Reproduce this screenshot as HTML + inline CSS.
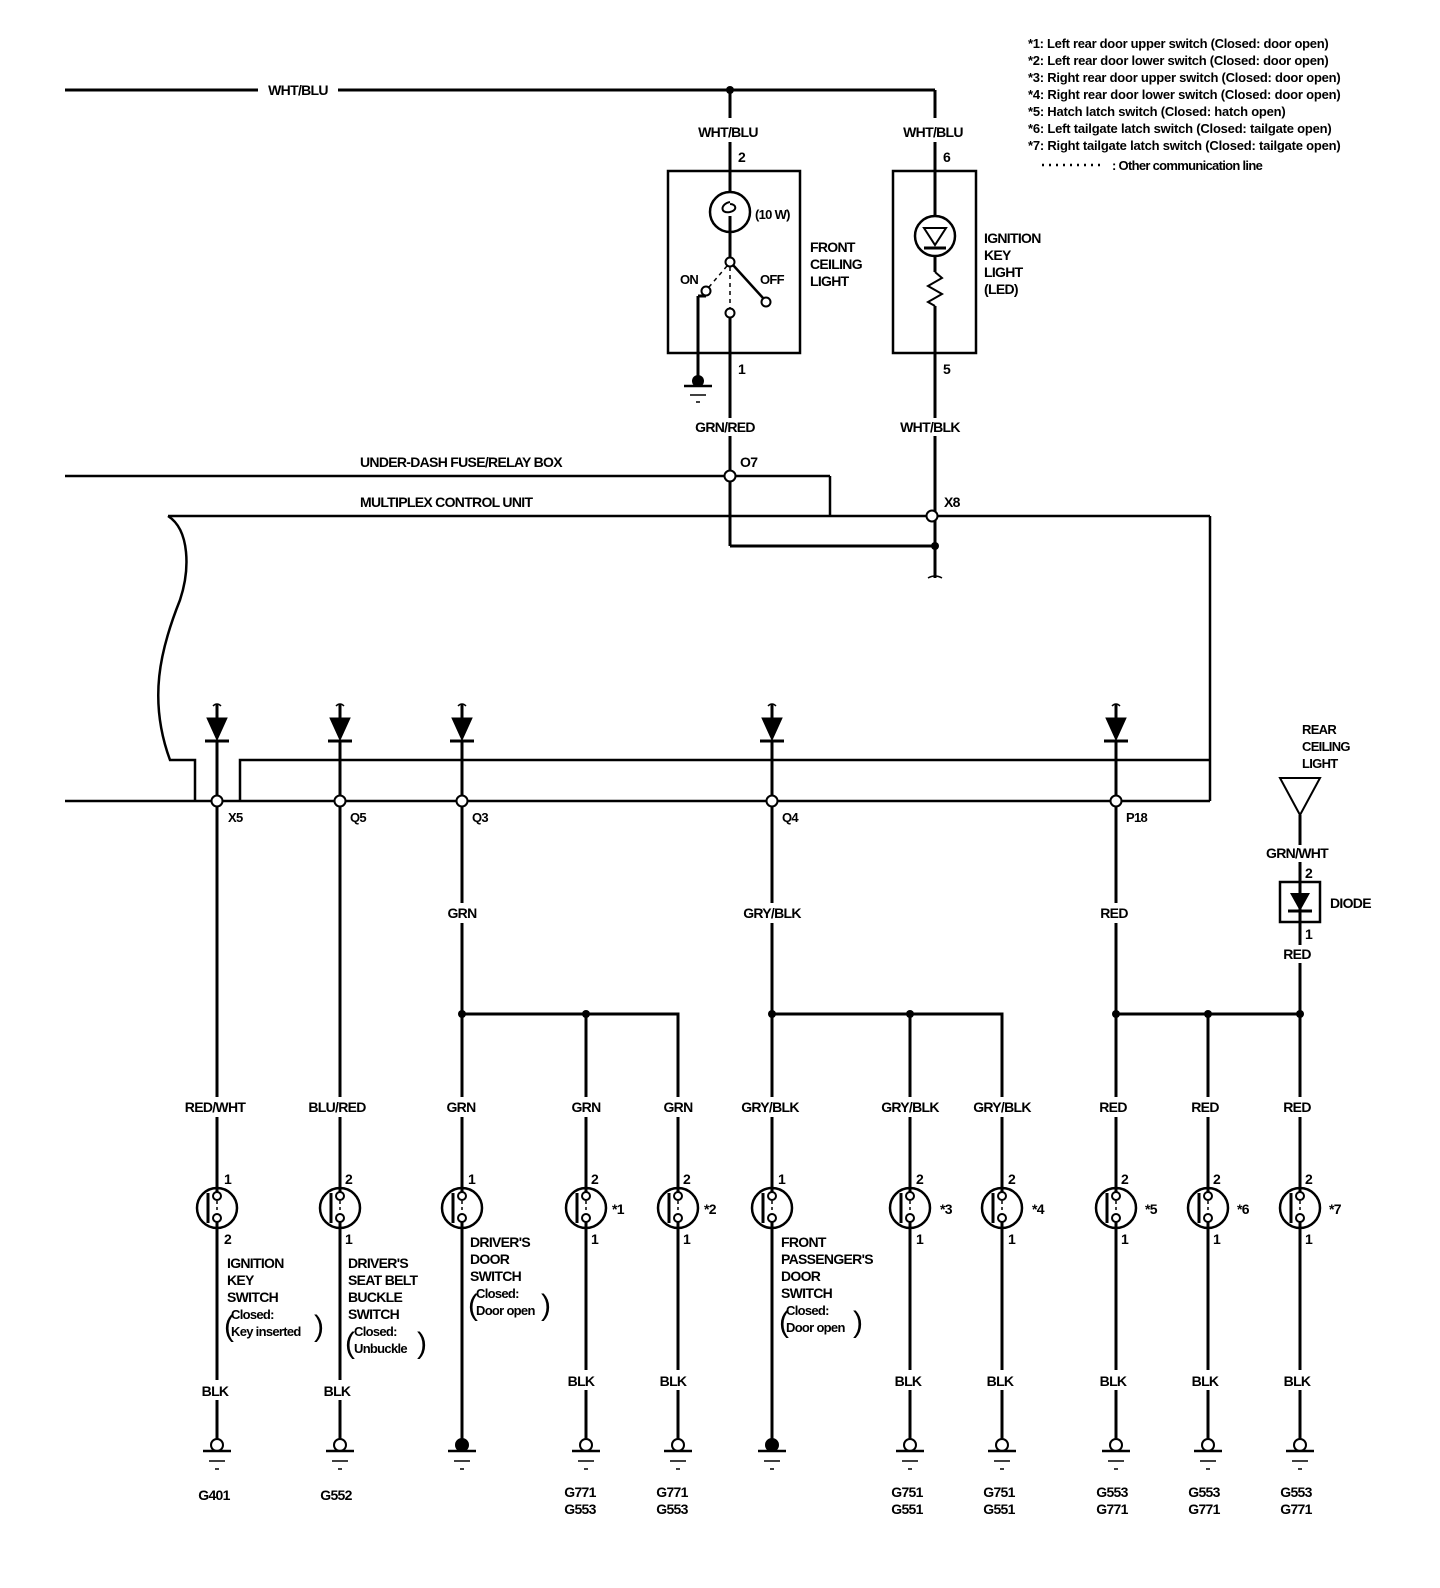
<!DOCTYPE html>
<html><head><meta charset="utf-8"><style>
html,body{margin:0;padding:0;background:#fff;}
svg{display:block;}
text{font-family:"Liberation Sans",sans-serif;font-weight:bold;font-size:14px;fill:#000;letter-spacing:-0.7px;}
.s{font-size:13px;}
.m{text-anchor:middle;}
</style></head><body>
<svg width="1440" height="1588" viewBox="0 0 1440 1588" xmlns="http://www.w3.org/2000/svg">
<defs>
<g id="sw" fill="none" stroke="#000">
<circle cx="0" cy="0" r="20" fill="#fff" stroke-width="2.5"/>
<line x1="-9" y1="-15" x2="-9" y2="15" stroke-width="3"/>
<line x1="0" y1="-20" x2="0" y2="-16" stroke-width="3"/>
<circle cx="0" cy="-12" r="4" fill="#fff" stroke-width="2"/>
<circle cx="0" cy="10" r="4" fill="#fff" stroke-width="2"/>
<line x1="0" y1="-7" x2="0" y2="5" stroke-width="1.5" stroke-dasharray="3,3"/>
<line x1="0" y1="14" x2="0" y2="20" stroke-width="3"/>
</g>
<g id="gnd" fill="none" stroke="#000">
<circle cx="0" cy="0" r="6" fill="#fff" stroke-width="2"/>
<line x1="-14" y1="6" x2="14" y2="6" stroke-width="2.5"/>
<line x1="-8" y1="16" x2="8" y2="16" stroke-width="1.5"/>
<line x1="-2" y1="24" x2="2" y2="24" stroke-width="1.5"/>
</g>
<g id="gndf" fill="none" stroke="#000">
<circle cx="0" cy="0" r="6" fill="#000" stroke-width="2"/>
<line x1="-14" y1="6" x2="14" y2="6" stroke-width="2.5"/>
<line x1="-8" y1="16" x2="8" y2="16" stroke-width="1.5"/>
<line x1="-2" y1="24" x2="2" y2="24" stroke-width="1.5"/>
</g>
<g id="dio" stroke="#000">
<path d="M-4,-42 Q0,-46 4,-42" fill="none" stroke-width="1.5"/>
<line x1="0" y1="-44" x2="0" y2="-30" stroke-width="3"/>
<polygon points="-10,-30 10,-30 0,-8" fill="#000"/>
<line x1="-12" y1="-7" x2="12" y2="-7" stroke-width="3"/>
</g>
</defs>

<g fill="none" stroke="#000" stroke-width="3">
<!-- top WHT/BLU -->
<line x1="65" y1="90" x2="258" y2="90"/>
<line x1="338" y1="90" x2="935" y2="90"/>
<line x1="935" y1="90" x2="935" y2="118"/>
<line x1="730" y1="90" x2="730" y2="118"/>
<line x1="730" y1="142" x2="730" y2="192"/>
<line x1="935" y1="142" x2="935" y2="216"/>
<!-- front ceiling light box -->
<rect x="668" y="171" width="132" height="182" stroke-width="2.5"/>
<circle cx="730" cy="212" r="20" stroke-width="2.5"/>
<path d="M730,202 C720,204 720,214 730,212 C738,210 736,204 730,204" stroke-width="2"/>
<line x1="730" y1="216" x2="730" y2="232"/>
<line x1="730" y1="232" x2="730" y2="258"/>
<circle cx="730" cy="262" r="4.5" fill="#fff" stroke-width="2"/>
<line x1="733" y1="265" x2="763" y2="298" stroke-width="2.5"/>
<line x1="727" y1="266" x2="709" y2="287" stroke-width="1.5" stroke-dasharray="4,4"/>
<line x1="730" y1="267" x2="730" y2="308" stroke-width="1.5" stroke-dasharray="4,4"/>
<circle cx="706" cy="291" r="4.5" fill="#fff" stroke-width="2"/>
<circle cx="730" cy="313" r="4.5" fill="#fff" stroke-width="2"/>
<circle cx="766" cy="302" r="4.5" fill="#fff" stroke-width="2"/>
<line x1="706" y1="296" x2="698" y2="296"/>
<line x1="698" y1="296" x2="698" y2="378"/>
<line x1="730" y1="318" x2="730" y2="418"/>
<line x1="730" y1="436" x2="730" y2="546"/>
<!-- ignition key light -->
<rect x="893" y="171" width="83" height="182" stroke-width="2.5"/>
<circle cx="935" cy="236" r="20" stroke-width="2.5"/>
<polygon points="924,228 946,228 935,245" stroke-width="2"/>
<line x1="924" y1="248" x2="946" y2="248"/>
<line x1="935" y1="256" x2="935" y2="272"/>
<path d="M935,272 L942,278 L928,286 L942,294 L928,302 L935,306" stroke-width="2"/>
<line x1="935" y1="306" x2="935" y2="418"/>
<line x1="935" y1="436" x2="935" y2="578"/>
<path d="M928,578 Q935,574 942,578" stroke-width="1.5"/>
<!-- under-dash & MCU -->
<line x1="65" y1="476" x2="830" y2="476" stroke-width="2.5"/>
<line x1="830" y1="476" x2="830" y2="516" stroke-width="2.5"/>
<line x1="168" y1="516" x2="1210" y2="516" stroke-width="2.5"/>
<line x1="1210" y1="516" x2="1210" y2="801" stroke-width="2.5"/>
<path d="M168,516 C190,530 190,570 180,600 C160,650 148,700 170,760 L195,760 L195,801" stroke-width="2.5"/>
<path d="M240,801 L240,760 L1210,760" stroke-width="2.5"/>
<line x1="65" y1="801" x2="1210" y2="801" stroke-width="2.5"/>
<line x1="730" y1="546" x2="935" y2="546"/>
</g>
<g fill="#000">
<circle cx="730" cy="90" r="4"/>
<circle cx="935" cy="546" r="4"/>
<circle cx="698" cy="381" r="6"/>
</g>
<g stroke="#000" fill="none">
<line x1="684" y1="386" x2="712" y2="386" stroke-width="2.5"/>
<line x1="690" y1="395" x2="706" y2="395" stroke-width="1.5"/>
<line x1="696" y1="402" x2="700" y2="402" stroke-width="1.5"/>
</g>
<g fill="#fff" stroke="#000" stroke-width="2">
<circle cx="730" cy="476" r="5.5"/>
<circle cx="932" cy="516" r="5.5"/>
</g>

<!-- diodes on MCU -->
<use href="#dio" x="217" y="748"/>
<use href="#dio" x="340" y="748"/>
<use href="#dio" x="462" y="748"/>
<use href="#dio" x="772" y="748"/>
<use href="#dio" x="1116" y="748"/>

<g fill="none" stroke="#000" stroke-width="3">
<line x1="217" y1="740" x2="217" y2="1097"/><line x1="217" y1="1117" x2="217" y2="1380"/><line x1="217" y1="1400" x2="217" y2="1440"/>
<line x1="340" y1="740" x2="340" y2="1097"/><line x1="340" y1="1117" x2="340" y2="1380"/><line x1="340" y1="1400" x2="340" y2="1440"/>
<line x1="462" y1="740" x2="462" y2="903"/><line x1="462" y1="923" x2="462" y2="1097"/><line x1="462" y1="1117" x2="462" y2="1440"/>
<line x1="772" y1="740" x2="772" y2="903"/><line x1="772" y1="923" x2="772" y2="1097"/><line x1="772" y1="1117" x2="772" y2="1440"/>
<line x1="1116" y1="740" x2="1116" y2="903"/><line x1="1116" y1="923" x2="1116" y2="1097"/><line x1="1116" y1="1117" x2="1116" y2="1370"/><line x1="1116" y1="1390" x2="1116" y2="1440"/>
<polyline points="462,1014 678,1014 678,1097"/>
<line x1="586" y1="1014" x2="586" y2="1097"/>
<polyline points="772,1014 1002,1014 1002,1097"/>
<line x1="910" y1="1014" x2="910" y2="1097"/>
<polyline points="1116,1014 1300,1014"/>
<line x1="1208" y1="1014" x2="1208" y2="1097"/>
<line x1="1300" y1="963" x2="1300" y2="1097"/>
<line x1="586" y1="1117" x2="586" y2="1370"/><line x1="586" y1="1390" x2="586" y2="1440"/>
<line x1="678" y1="1117" x2="678" y2="1370"/><line x1="678" y1="1390" x2="678" y2="1440"/>
<line x1="910" y1="1117" x2="910" y2="1370"/><line x1="910" y1="1390" x2="910" y2="1440"/>
<line x1="1002" y1="1117" x2="1002" y2="1370"/><line x1="1002" y1="1390" x2="1002" y2="1440"/>
<line x1="1208" y1="1117" x2="1208" y2="1370"/><line x1="1208" y1="1390" x2="1208" y2="1440"/>
<line x1="1300" y1="1117" x2="1300" y2="1370"/><line x1="1300" y1="1390" x2="1300" y2="1440"/>
<!-- rear ceiling light & diode -->
<polygon points="1280,778 1320,778 1300,815" stroke-width="2"/>
<line x1="1300" y1="815" x2="1300" y2="845"/>
<line x1="1300" y1="862" x2="1300" y2="945"/>
<rect x="1280" y="882" width="40" height="40" stroke-width="2.5"/>
<line x1="1288" y1="911" x2="1312" y2="911"/>
</g>
<polygon points="1290,893 1310,893 1300,911" fill="#000"/>
<g fill="#000">
<circle cx="462" cy="1014" r="4"/><circle cx="586" cy="1014" r="4"/>
<circle cx="772" cy="1014" r="4"/><circle cx="910" cy="1014" r="4"/>
<circle cx="1116" cy="1014" r="4"/><circle cx="1208" cy="1014" r="4"/><circle cx="1300" cy="1014" r="4"/>
</g>
<g fill="#fff" stroke="#000" stroke-width="2">
<circle cx="217" cy="801" r="5.5"/><circle cx="340" cy="801" r="5.5"/><circle cx="462" cy="801" r="5.5"/>
<circle cx="772" cy="801" r="5.5"/><circle cx="1116" cy="801" r="5.5"/>
</g>

<!-- switches -->
<use href="#sw" x="217" y="1208"/><use href="#sw" x="340" y="1208"/><use href="#sw" x="462" y="1208"/>
<use href="#sw" x="586" y="1208"/><use href="#sw" x="678" y="1208"/><use href="#sw" x="772" y="1208"/>
<use href="#sw" x="910" y="1208"/><use href="#sw" x="1002" y="1208"/><use href="#sw" x="1116" y="1208"/>
<use href="#sw" x="1208" y="1208"/><use href="#sw" x="1300" y="1208"/>
<!-- grounds -->
<use href="#gnd" x="217" y="1445"/><use href="#gnd" x="340" y="1445"/><use href="#gndf" x="462" y="1445"/>
<use href="#gnd" x="586" y="1445"/><use href="#gnd" x="678" y="1445"/><use href="#gndf" x="772" y="1445"/>
<use href="#gnd" x="910" y="1445"/><use href="#gnd" x="1002" y="1445"/><use href="#gnd" x="1116" y="1445"/>
<use href="#gnd" x="1208" y="1445"/><use href="#gnd" x="1300" y="1445"/>

<!-- texts -->
<text x="298" y="95" class="m">WHT/BLU</text>
<text x="728" y="137" class="m">WHT/BLU</text>
<text x="933" y="137" class="m">WHT/BLU</text>
<text x="738" y="162">2</text><text x="943" y="162">6</text>
<text x="755" y="219" class="s">(10 W)</text>
<text x="680" y="284" class="s">ON</text><text x="760" y="284" class="s">OFF</text>
<text x="810" y="252">FRONT</text><text x="810" y="269">CEILING</text><text x="810" y="286">LIGHT</text>
<text x="984" y="243">IGNITION</text><text x="984" y="260">KEY</text><text x="984" y="277">LIGHT</text><text x="984" y="294">(LED)</text>
<text x="738" y="374">1</text><text x="943" y="374">5</text>
<text x="725" y="432" class="m">GRN/RED</text><text x="930" y="432" class="m">WHT/BLK</text>
<text x="740" y="467">O7</text><text x="944" y="507">X8</text>
<text x="360" y="467">UNDER-DASH FUSE/RELAY BOX</text>
<text x="360" y="507">MULTIPLEX CONTROL UNIT</text>

<text x="1028" y="48" class="s" textLength="300">*1: Left rear door upper switch (Closed: door open)</text>
<text x="1028" y="65" class="s" textLength="300">*2: Left rear door lower switch (Closed: door open)</text>
<text x="1028" y="82" class="s" textLength="312">*3: Right rear door upper switch (Closed: door open)</text>
<text x="1028" y="99" class="s" textLength="312">*4: Right rear door lower switch (Closed: door open)</text>
<text x="1028" y="116" class="s" textLength="257">*5: Hatch latch switch (Closed: hatch open)</text>
<text x="1028" y="133" class="s" textLength="303">*6: Left tailgate latch switch (Closed: tailgate open)</text>
<text x="1028" y="150" class="s" textLength="312">*7: Right tailgate latch switch (Closed: tailgate open)</text>
<line x1="1042" y1="165" x2="1102" y2="165" stroke="#000" stroke-width="2.5" stroke-dasharray="2,5"/>
<text x="1112" y="170" class="s">: Other communication line</text>

<text x="228" y="822" class="s">X5</text><text x="350" y="822" class="s">Q5</text><text x="472" y="822" class="s">Q3</text>
<text x="782" y="822" class="s">Q4</text><text x="1126" y="822" class="s">P18</text>
<text x="1302" y="734" class="s">REAR</text><text x="1302" y="751" class="s">CEILING</text><text x="1302" y="768" class="s">LIGHT</text>
<text x="1297" y="858" class="m">GRN/WHT</text>
<text x="1305" y="878">2</text><text x="1330" y="908">DIODE</text><text x="1305" y="939">1</text>
<text x="1297" y="959" class="m">RED</text>
<text x="462" y="918" class="m">GRN</text><text x="772" y="918" class="m">GRY/BLK</text><text x="1114" y="918" class="m">RED</text>

<text x="215" y="1112" class="m">RED/WHT</text><text x="337" y="1112" class="m">BLU/RED</text>
<text x="461" y="1112" class="m">GRN</text><text x="586" y="1112" class="m">GRN</text><text x="678" y="1112" class="m">GRN</text>
<text x="770" y="1112" class="m">GRY/BLK</text><text x="910" y="1112" class="m">GRY/BLK</text><text x="1002" y="1112" class="m">GRY/BLK</text>
<text x="1113" y="1112" class="m">RED</text><text x="1205" y="1112" class="m">RED</text><text x="1297" y="1112" class="m">RED</text>

<text x="224" y="1184">1</text><text x="224" y="1244">2</text>
<text x="345" y="1184">2</text><text x="345" y="1244">1</text>
<text x="468" y="1184">1</text>
<text x="591" y="1184">2</text><text x="591" y="1244">1</text><text x="612" y="1214">*1</text>
<text x="683" y="1184">2</text><text x="683" y="1244">1</text><text x="704" y="1214">*2</text>
<text x="778" y="1184">1</text>
<text x="916" y="1184">2</text><text x="916" y="1244">1</text><text x="940" y="1214">*3</text>
<text x="1008" y="1184">2</text><text x="1008" y="1244">1</text><text x="1032" y="1214">*4</text>
<text x="1121" y="1184">2</text><text x="1121" y="1244">1</text><text x="1145" y="1214">*5</text>
<text x="1213" y="1184">2</text><text x="1213" y="1244">1</text><text x="1237" y="1214">*6</text>
<text x="1305" y="1184">2</text><text x="1305" y="1244">1</text><text x="1329" y="1214">*7</text>

<text x="227" y="1268">IGNITION</text><text x="227" y="1285">KEY</text><text x="227" y="1302">SWITCH</text>
<text x="231" y="1319" class="s">Closed:</text><text x="231" y="1336" class="s">Key inserted</text>
<text x="224" y="1336" style="font-size:30px;font-weight:normal">(</text><text x="314" y="1336" style="font-size:30px;font-weight:normal">)</text>
<text x="348" y="1268">DRIVER'S</text><text x="348" y="1285">SEAT BELT</text><text x="348" y="1302">BUCKLE</text><text x="348" y="1319">SWITCH</text>
<text x="354" y="1336" class="s">Closed:</text><text x="354" y="1353" class="s">Unbuckle</text>
<text x="345" y="1353" style="font-size:30px;font-weight:normal">(</text><text x="417" y="1353" style="font-size:30px;font-weight:normal">)</text>
<text x="470" y="1247">DRIVER'S</text><text x="470" y="1264">DOOR</text><text x="470" y="1281">SWITCH</text>
<text x="476" y="1298" class="s">Closed:</text><text x="476" y="1315" class="s">Door open</text>
<text x="468" y="1315" style="font-size:30px;font-weight:normal">(</text><text x="541" y="1315" style="font-size:30px;font-weight:normal">)</text>
<text x="781" y="1247">FRONT</text><text x="781" y="1264">PASSENGER'S</text><text x="781" y="1281">DOOR</text><text x="781" y="1298">SWITCH</text>
<text x="786" y="1315" class="s">Closed:</text><text x="786" y="1332" class="s">Door open</text>
<text x="779" y="1332" style="font-size:30px;font-weight:normal">(</text><text x="853" y="1332" style="font-size:30px;font-weight:normal">)</text>

<text x="215" y="1396" class="m">BLK</text><text x="337" y="1396" class="m">BLK</text>
<text x="581" y="1386" class="m">BLK</text><text x="673" y="1386" class="m">BLK</text>
<text x="908" y="1386" class="m">BLK</text><text x="1000" y="1386" class="m">BLK</text>
<text x="1113" y="1386" class="m">BLK</text><text x="1205" y="1386" class="m">BLK</text><text x="1297" y="1386" class="m">BLK</text>

<text x="214" y="1500" class="m">G401</text><text x="336" y="1500" class="m">G552</text>
<text x="580" y="1497" class="m">G771</text><text x="580" y="1514" class="m">G553</text>
<text x="672" y="1497" class="m">G771</text><text x="672" y="1514" class="m">G553</text>
<text x="907" y="1497" class="m">G751</text><text x="907" y="1514" class="m">G551</text>
<text x="999" y="1497" class="m">G751</text><text x="999" y="1514" class="m">G551</text>
<text x="1112" y="1497" class="m">G553</text><text x="1112" y="1514" class="m">G771</text>
<text x="1204" y="1497" class="m">G553</text><text x="1204" y="1514" class="m">G771</text>
<text x="1296" y="1497" class="m">G553</text><text x="1296" y="1514" class="m">G771</text>
</svg>
</body></html>
